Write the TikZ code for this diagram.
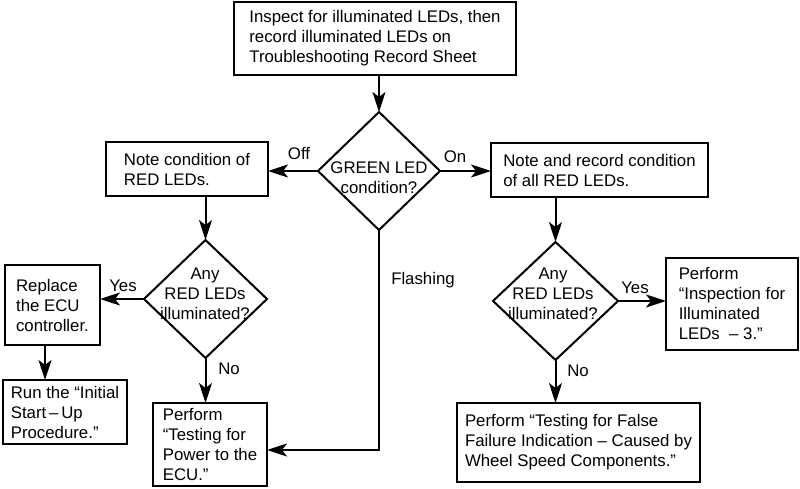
\documentclass[tikz,border=0pt]{standalone}
\usepackage{fontspec}
\setmainfont{Liberation Sans}
\usetikzlibrary{shapes.geometric,arrows.meta}
\begin{document}
\begin{tikzpicture}[x=1pt,y=-1pt,
  font=\fontsize{16.8pt}{20pt}\selectfont,
  line width=2pt,
  box/.style={draw, rectangle, align=left, inner sep=0pt, outer sep=0pt},
  dia/.style={draw, diamond, inner sep=0pt, outer sep=0pt},
  dtext/.style={align=center, inner sep=0pt},
  lbl/.style={inner sep=0pt},
  arr/.style={-{Stealth[length=20pt,width=13pt,inset=5pt]}}]
\useasboundingbox (0,0) rectangle (800,489);
% boxes
\node[box, minimum width=282pt, minimum height=73pt] (top) at (375,38.5)
  {Inspect for illuminated LEDs, then\\record illuminated LEDs on\\Troubleshooting Record Sheet};
\node[box, minimum width=162pt, minimum height=54pt] (note) at (187,169)
  {Note condition of\\RED LEDs.};
\node[box, minimum width=217pt, minimum height=54pt] (rec) at (599.5,170)
  {Note and record condition\\of all RED LEDs.};
\node[box, minimum width=95pt, minimum height=80pt] (rep) at (52.5,305)
  {Replace\\the ECU\\controller.};
\node[box, minimum width=124pt, minimum height=64pt] (run) at (65,412)
  {Run the \textquotedblleft Initial\\Start\,--\,Up\\Procedure.\textquotedblright};
\node[box, minimum width=114pt, minimum height=83pt] (pow) at (210,444.5)
  {Perform\\\textquotedblleft Testing for\\Power to the\\ECU.\textquotedblright};
\node[box, minimum width=132pt, minimum height=92pt] (insp) at (732,304)
  {Perform\\\textquotedblleft Inspection for\\Illuminated\\LEDs\ \ --\ 3.\textquotedblright};
\node[box, minimum width=243pt, minimum height=79pt] (fal) at (578.5,442.5)
  {Perform \textquotedblleft Testing for False\\Failure Indication -- Caused by\\Wheel Speed Components.\textquotedblright};
% diamonds
\node[dia, minimum width=122pt, minimum height=118pt] (gdia) at (379,171) {};
\node[dtext] (gtxt) at (379,178) {GREEN LED\\condition?};
\node[dia, minimum width=123pt, minimum height=118pt] (ldia) at (205.5,299) {};
\node[dtext] (ltxt) at (205,294) {Any\\RED LEDs\\illuminated?};
\node[dia, minimum width=125pt, minimum height=118pt] (rdia) at (555.5,301) {};
\node[dtext] (rtxt) at (553,294) {Any\\RED LEDs\\illuminated?};
% connectors
\draw[arr] (top.south -| gdia.north) -- (gdia.north);
\draw[arr] (gdia.west) -- (note.east |- gdia.west);
\draw[arr] (gdia.east) -- (rec.west |- gdia.east);
\draw[arr] (note.south -| ldia.north) -- (ldia.north);
\draw[arr] (rec.south -| rdia.north) -- (rdia.north);
\draw[arr] (ldia.west) -- (rep.east |- ldia.west);
\draw[arr] (ldia.south) -- (pow.north -| ldia.south);
\coordinate (ra) at ([xshift=-7.5pt]rep.south);
\draw[arr] (ra) -- (ra |- run.north);
\draw[arr] (rdia.east) -- (insp.west |- rdia.east);
\draw[arr] (rdia.south) -- (fal.north -| rdia.south);
\coordinate (fc) at (380,450);
\draw[arr] (gdia.south) -- (gdia.south |- fc) -- (fc -| pow.east);
% labels
\node[lbl] (off) at (299,154) {Off};
\node[lbl] (on) at (455,157) {On};
\node[lbl] (lyes) at (123,286) {Yes};
\node[lbl] (lno) at (229,369) {No};
\node[lbl] (ryes) at (635,288) {Yes};
\node[lbl] (rno) at (578,371) {No};
\node[lbl] (flash) at (423,280) {Flashing};
\end{tikzpicture}
\end{document}
